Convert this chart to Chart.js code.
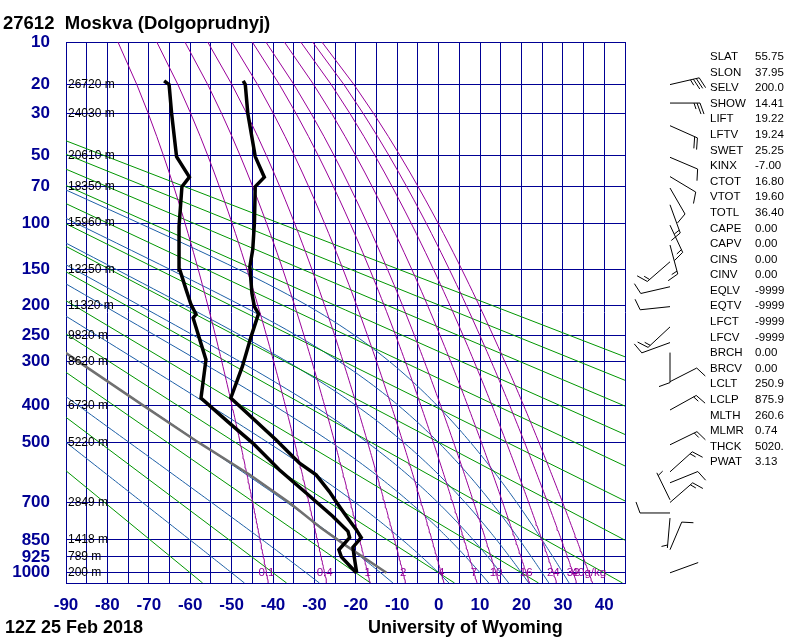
<!DOCTYPE html>
<html>
<head>
<meta charset="utf-8">
<title>27612 Moskva (Dolgoprudnyj)</title>
<script src="https://cdn.jsdelivr.net/npm/chart.js@4.4.1/dist/chart.umd.min.js"></script>
<style>
  html, body { margin: 0; padding: 0; background: #fff; }
  canvas { display: block; }
</style>
</head>
<body>
<canvas id="stuve" width="800" height="640"></canvas>
<script>
// pressure axis is linear in p^(R/cp)
const K = 0.286;
function pk(p) { return Math.pow(p, K); }

// observed sounding, hPa / degC
const tempP = [1000, 925, 882, 840, 807, 753, 696, 660, 602, 564, 492, 381, 310, 252, 213, 202, 192, 182, 147, 127, 100, 70, 63.4, 50.6, 29.8, 20, 18.9];
const tempT = [-19.8, -20.4, -20.7, -18.7, -19.9, -22.3, -24.8, -26.4, -29.6, -33.6, -39.3, -50.2, -47.4, -45.3, -43.5, -44.5, -44.8, -45.1, -45.6, -44.9, -44.5, -44.3, -42.1, -44.3, -46.1, -46.7, -47.2];
const dewP = [1000, 925, 893, 840, 814, 753, 665, 585, 502, 445, 381, 296, 220, 214, 199, 177, 151, 103, 70, 63.4, 50.6, 29.8, 20, 18.9];
const dewT = [-19.9, -23.5, -24.1, -21.5, -21.9, -25.6, -32.0, -38.5, -44.9, -50.6, -57.4, -56.2, -59.3, -58.6, -59.8, -61.0, -62.5, -62.7, -62.0, -60.2, -63.3, -64.5, -65.1, -66.3];

// lifted parcel (grey)
const parcelP = [1000, 876, 800, 700, 600, 500, 400, 300, 280];
const parcelT = [-12.6, -22.3, -28.4, -36.1, -45.8, -58.0, -71.3, -87.0, -90.5];

const pressureTicks = [10, 20, 30, 50, 70, 100, 150, 200, 250, 300, 400, 500, 700, 850, 925, 1000];
const heightLevels = [20, 30, 50, 70, 100, 150, 200, 250, 300, 400, 500, 700, 850, 925, 1000];
const heightLabels = ['26720 m', '24030 m', '20610 m', '18350 m', '15960 m', '13250 m', '11320 m', '9820 m', '8620 m', '6730 m', '5220 m', '2849 m', '1418 m', '789 m', '200 m'];

// background lines
const dryAdiabats = [-60, -40, -20, 0, 20, 40, 60, 80, 100, 120, 140, 160, 180];
const moistAdiabats = [-50, -32, -14, 0, 10, 15, 20, 25, 30];
const mixRatios = [0.1, 0.4, 1, 2, 4, 7, 10, 16, 24, 32, 40];
const mixLabels = ['0.1', '0.4', '1', '2', '4', '7', '10', '16', '24', '32', '40g/kg'];

// winds: hPa, direction (deg), speed (kt)
const windP = [20, 26, 35, 51, 63, 71, 84, 102, 122, 141, 173, 202, 235, 263, 282, 343, 411, 507, 592, 629, 690, 700, 740, 760, 893, 1000];
const windDir = [77, 90, 114, 113, 121, 150, 160, 155, 165, 229, 257, 264, 227, 250, 180, 63, 61, 64, 48, 68, 334, 49, 270, 185, 23, 70];
const windSpd = [35, 25, 20, 10, 10, 10, 15, 15, 15, 15, 10, 10, 15, 10, 10, 10, 15, 15, 15, 10, 5, 15, 10, 5, 10, 2];

const indexNames = ['SLAT', 'SLON', 'SELV', 'SHOW', 'LIFT', 'LFTV', 'SWET', 'KINX', 'CTOT', 'VTOT', 'TOTL', 'CAPE', 'CAPV', 'CINS', 'CINV', 'EQLV', 'EQTV', 'LFCT', 'LFCV', 'BRCH', 'BRCV', 'LCLT', 'LCLP', 'MLTH', 'MLMR', 'THCK', 'PWAT'];
const indexValues = ['55.75', '37.95', '200.0', '14.41', '19.22', '19.24', '25.25', '-7.00', '16.80', '19.60', '36.40', '0.00', '0.00', '0.00', '0.00', '-9999', '-9999', '-9999', '-9999', '0.00', '0.00', '250.9', '875.9', '260.6', '0.74', '5020.', '3.13'];

const NAVY = '#000094';
const FONT = "'Liberation Sans', Arial, sans-serif";

function es(tc) { return 6.112 * Math.exp(17.67 * tc / (tc + 243.5)); }

function dewFromMix(w, p) {
  const e = w * p / (622 + w);
  const l = Math.log(e / 6.112);
  return 243.5 * l / (17.67 - l);
}

function moistLapse(tk, p) {
  const Rd = 287.04, cp = 1005.7, Lv = 2.501e6, eps = 0.622;
  const e = es(tk - 273.15);
  const rs = eps * e / (p - e);
  return (Rd * tk + Lv * rs) / (p * (cp + Lv * Lv * rs * eps / (Rd * tk * tk)));
}

function moistLine(thw) {
  let tb = thw + 273.15, pb = 1000;
  for (let i = 0; i < 25; i++) {
    const k1 = moistLapse(tb, pb);
    const k2 = moistLapse(tb + 2 * k1, pb + 2);
    tb += k1 + k2; pb += 2;
  }
  const pts = [{ x: tb - 273.15, y: pk(pb) }];
  let t = thw + 273.15, p = 1000;
  pts.push({ x: t - 273.15, y: pk(p) });
  for (let i = 0; i < 495 && t > 150; i++) {
    const k1 = moistLapse(t, p);
    const k2 = moistLapse(t - 2 * k1, p - 2);
    t -= k1 + k2; p -= 2;
    if (i % 4 === 3) pts.push({ x: t - 273.15, y: pk(p) });
  }
  return pts;
}

function line(data, color, width, order) {
  return { data: data, borderColor: color, borderWidth: width, showLine: true,
           pointRadius: 0, fill: false, tension: 0, order: order };
}

const datasets = [];
datasets.push(line(tempP.map((p, i) => ({ x: tempT[i], y: pk(p) })), '#000', 3.5, 1));
datasets.push(line(dewP.map((p, i) => ({ x: dewT[i], y: pk(p) })), '#000', 3.5, 1));
datasets.push(line(parcelP.map((p, i) => ({ x: parcelT[i], y: pk(p) })), '#707070', 2.5, 2));

dryAdiabats.forEach(t0 => {
  const th = t0 + 273.15;
  datasets.push(line([1050, 10].map(p => ({ x: th * pk(p) / pk(1000) - 273.15, y: pk(p) })), '#009600', 1, 5));
});
moistAdiabats.forEach(thw => datasets.push(line(moistLine(thw), '#1d5fa6', 1, 5)));
mixRatios.forEach(w => {
  const pts = [];
  for (let p = 1050; p >= 10; p -= 10) pts.push({ x: dewFromMix(w, p), y: pk(p) });
  datasets.push(line(pts, '#990099', 1, 4));
});

const textPlugin = {
  id: 'texts',
  afterDraw(chart) {
    const ctx = chart.ctx, xs = chart.scales.x, ys = chart.scales.y;
    ctx.save();
    ctx.fillStyle = '#000';
    ctx.font = 'bold 18.5px ' + FONT;
    ctx.textAlign = 'left';
    ctx.textBaseline = 'alphabetic';
    ctx.fillText('27612  Moskva (Dolgoprudnyj)', 3, 29);
    ctx.font = 'bold 18px ' + FONT;
    ctx.fillText('12Z 25 Feb 2018', 5, 633);
    ctx.fillText('University of Wyoming', 368, 633);

    ctx.font = '12px ' + FONT;
    ctx.textBaseline = 'middle';
    heightLevels.forEach((p, i) => ctx.fillText(heightLabels[i], 68, ys.getPixelForValue(pk(p))));

    ctx.fillStyle = '#990099';
    ctx.font = '11.5px ' + FONT;
    ctx.textAlign = 'center';
    const y1000 = ys.getPixelForValue(pk(1000));
    mixRatios.forEach((w, i) => ctx.fillText(mixLabels[i], xs.getPixelForValue(dewFromMix(w, 1000)), y1000));

    ctx.fillStyle = '#000';
    ctx.font = '11.5px ' + FONT;
    ctx.textAlign = 'left';
    indexNames.forEach((n, i) => {
      const y = 57 + i * 15.58;
      ctx.fillText(n, 710, y);
      ctx.fillText(indexValues[i], 755, y);
    });
    ctx.restore();
  }
};

const barbPlugin = {
  id: 'barbs',
  afterDraw(chart) {
    const ctx = chart.ctx, ys = chart.scales.y;
    ctx.save();
    ctx.strokeStyle = '#000';
    ctx.lineWidth = 1;
    ctx.beginPath();
    windP.forEach((p, i) => {
      const bx = 670, by = ys.getPixelForValue(pk(p));
      const a = windDir[i] * Math.PI / 180;
      const ux = Math.sin(a), uy = -Math.cos(a);
      const tx = bx + ux * 30, ty = by + uy * 30;
      ctx.moveTo(bx, by);
      ctx.lineTo(tx, ty);
      const px = -uy, py = ux;
      let spd = windSpd[i], pos = 0;
      while (spd >= 10) {
        const sx = tx - ux * pos, sy = ty - uy * pos;
        ctx.moveTo(sx, sy);
        ctx.lineTo(sx + px * 11 + ux * 4, sy + py * 11 + uy * 4);
        pos += 3; spd -= 10;
      }
      if (spd >= 5) {
        if (pos === 0) pos = 3;
        const sx = tx - ux * pos, sy = ty - uy * pos;
        ctx.moveTo(sx, sy);
        ctx.lineTo(sx + px * 6 + ux * 2, sy + py * 6 + uy * 2);
      }
    });
    ctx.stroke();
    ctx.restore();
  }
};

new Chart(document.getElementById('stuve'), {
  type: 'scatter',
  data: { datasets: datasets },
  options: {
    responsive: false,
    animation: false,
    devicePixelRatio: 1,
    layout: { padding: { top: 42, right: 175, bottom: 0, left: 0 } },
    plugins: { legend: { display: false }, tooltip: { enabled: false } },
    scales: {
      x: {
        type: 'linear', min: -90, max: 45,
        afterFit: s => { s.height = 57; },
        grid: { color: NAVY, lineWidth: 1, drawTicks: false },
        border: { color: NAVY },
        ticks: {
          stepSize: 5, autoSkip: false, maxRotation: 0, padding: 12, color: NAVY,
          font: { family: FONT, size: 17, weight: 'bold' },
          callback: v => (v % 10 === 0 && v <= 40) ? String(v) : ''
        }
      },
      y: {
        type: 'linear', reverse: true, min: pk(10), max: pk(1050),
        afterFit: s => { s.width = 66; },
        afterBuildTicks: s => { s.ticks = pressureTicks.map(p => ({ value: pk(p) })); },
        grid: { color: NAVY, lineWidth: 1, drawTicks: false },
        border: { color: NAVY },
        ticks: {
          autoSkip: false, padding: 16, color: NAVY,
          font: { family: FONT, size: 17, weight: 'bold' },
          callback: (v, i) => String(pressureTicks[i])
        }
      }
    }
  },
  plugins: [textPlugin, barbPlugin]
});
</script>
</body>
</html>
